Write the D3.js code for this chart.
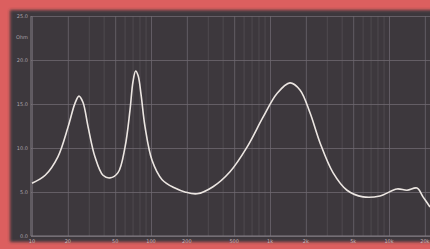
<!DOCTYPE html>
<html>
<head>
<meta charset="utf-8">
<script src="https://cdn.jsdelivr.net/npm/d3@7"></script>
<style>
  html, body { margin: 0; padding: 0; background: #d95c5c; }
  svg { display: block; }
</style>
</head>
<body>
<div class="chart"></div>
<script>
// Frequency (Hz) and impedance (Ohm)
var freq = [10, 12.9, 16.5, 20.1, 23, 24.8, 26.8, 29.6, 33.8, 39.5, 45.2, 52.8, 60.5, 66.6,
            70.5, 74.3, 78, 82.6, 89.1, 102, 124, 159, 193, 244, 332, 461, 641, 874, 1145, 1472,
            1786, 2168, 2630, 3383, 4436, 6050, 8400, 11670, 14160, 17180, 19300, 22100];
var ohms = [6.0, 6.9, 9.0, 12.4, 15.1, 15.9, 15.2, 12.4, 9.0, 6.9, 6.6, 7.2, 10.1, 14.3,
            17.5, 18.75, 18.2, 16.0, 12.4, 8.6, 6.4, 5.45, 5.0, 4.8, 5.6, 7.3, 10.1, 13.5, 16.2, 17.4,
            16.6, 14.0, 10.6, 7.2, 5.2, 4.45, 4.55, 5.35, 5.2, 5.45, 4.45, 3.3];

// Axis tick values and labels
var xTicks = [10, 20, 50, 100, 200, 500, 1000, 2000, 5000, 10000, 20000];
var xLabels = ["10", "20", "50", "100", "200", "500", "1k", "2k", "5k", "10k", "20k"];
var xMinor = [30, 40, 60, 70, 80, 90, 300, 400, 600, 700, 800, 900, 3000, 4000, 6000, 7000, 8000, 9000];
var yTicks = [0, 5, 10, 15, 20, 25];
var yLabels = ["0.0", "5.0", "10.0", "15.0", "20.0", "25.0"];

function init(){

  var w = 430;
  var h = 249;

  var svg = d3.select("div.chart")
              .append("svg")
              .attr("width", w)
              .attr("height", h);

  // soft edge for the dark panel
  var defs = svg.append("defs");
  defs.append("filter").attr("id", "soft")
      .attr("x", "-5%").attr("y", "-5%").attr("width", "110%").attr("height", "110%")
      .append("feGaussianBlur").attr("stdDeviation", 1.5);

  // red frame
  svg.append("rect")
     .attr("width", w).attr("height", h)
     .attr("fill", "#dc5f5f");

  // dark panel
  svg.append("rect")
     .attr("x", 10).attr("y", 10)
     .attr("width", 425).attr("height", 232)
     .attr("fill", "#3d393c")
     .attr("filter", "url(#soft)");

  // Scales: log frequency, linear impedance
  var xScale = d3.scaleLog().domain([10, 22100]).range([32, 430]);
  var yScale = d3.scaleLinear().domain([0, 25]).range([236, 16]);

  // minor vertical grid
  svg.append("g")
     .attr("transform", "translate(0,236)")
     .call(d3.axisBottom(xScale).tickValues(xMinor).tickSize(-220).tickFormat(""))
     .call(function(g){ g.select(".domain").remove(); })
     .selectAll("line")
     .attr("stroke", "#4f4a4f")
     .attr("stroke-width", 1);

  // major vertical grid
  svg.append("g")
     .attr("transform", "translate(0,236)")
     .call(d3.axisBottom(xScale).tickValues(xTicks).tickSize(-220).tickFormat(""))
     .call(function(g){ g.select(".domain").remove(); })
     .selectAll("line")
     .attr("stroke", "#6c666e")
     .attr("stroke-width", 0.8);

  // horizontal grid
  svg.append("g")
     .attr("transform", "translate(31,0)")
     .call(d3.axisLeft(yScale).tickValues(yTicks).tickSize(-400).tickFormat(""))
     .call(function(g){ g.select(".domain").remove(); })
     .selectAll("line")
     .attr("stroke", "#6e6870")
     .attr("stroke-width", 0.8);

  // axis lines
  svg.append("line")
     .attr("x1", 31).attr("x2", 31)
     .attr("y1", yScale(25)).attr("y2", yScale(0))
     .attr("stroke", "#847e86");
  svg.append("line")
     .attr("x1", 31).attr("x2", 430)
     .attr("y1", yScale(0)).attr("y2", yScale(0))
     .attr("stroke", "#847e86");

  // y labels
  svg.append("g")
     .selectAll("text")
     .data(yTicks)
     .enter()
     .append("text")
     .attr("x", 28)
     .attr("y", function(d){ return yScale(d) + 2; })
     .attr("text-anchor", "end")
     .attr("font-family", "DejaVu Sans")
     .attr("font-size", 5)
     .attr("fill", "#aba3ab")
     .text(function(d, i){ return yLabels[i]; });

  svg.append("text")
     .attr("x", 28).attr("y", 39)
     .attr("text-anchor", "end")
     .attr("font-family", "DejaVu Sans")
     .attr("font-size", 5)
     .attr("fill", "#aba3ab")
     .text("Ohm");

  // x labels
  svg.append("g")
     .selectAll("text")
     .data(xTicks)
     .enter()
     .append("text")
     .attr("x", function(d){ return xScale(d); })
     .attr("y", 243)
     .attr("text-anchor", "middle")
     .attr("font-family", "DejaVu Sans")
     .attr("font-size", 5)
     .attr("fill", "#c4b8bc")
     .text(function(d, i){ return xLabels[i]; });

  // impedance curve
  var line = d3.line()
               .x(function(d){ return xScale(d[0]); })
               .y(function(d){ return yScale(d[1]); })
               .curve(d3.curveCatmullRom.alpha(0.5));

  svg.append("path")
     .datum(d3.zip(freq, ohms))
     .attr("d", line)
     .attr("fill", "none")
     .attr("stroke", "#ece6e2")
     .attr("stroke-width", 1.6);
}

window.onload = init;
</script>
</body>
</html>
